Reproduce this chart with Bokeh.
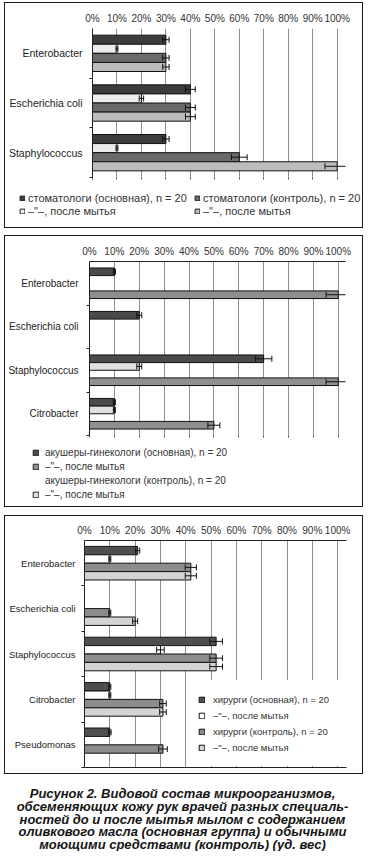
from bokeh.plotting import figure
from bokeh.models import (Range1d, FixedTicker, LinearAxis, Legend, LegendItem,
                          Whisker, ColumnDataSource, TeeHead)
from bokeh.layouts import column
from bokeh.embed import file_html
from bokeh.resources import INLINE
from bokeh.core.properties import value

F = "Liberation Sans"
BORDER = {"border": "1px solid #1a1a1a", "box-sizing": "content-box"}

# ---------------- data ----------------
PCT_TICKS = [0, 10, 20, 30, 40, 50, 60, 70, 80, 90, 100]
PCT_LABELS = ["0%", "10%", "20%", "30%", "40%", "50%", "60%", "70%", "80%", "90%", "100%"]

# Panel 1 - стоматологи
cats1 = ["Enterobacter", "Escherichia coli", "Staphylococcus"]
p1_main = [30, 40, 30]
p1_main_err = [1.3, 2.0, 1.3]
p1_main_after = [10, 20, 10]
p1_main_after_err = [0.4, 0.9, 0.4]
p1_ctrl = [30, 40, 60]
p1_ctrl_err = [1.3, 2.0, 3.2]
p1_ctrl_after = [30, 40, 100]
p1_ctrl_after_err = [1.3, 2.0, 5.0]
labels1 = ["стоматологи (основная), n = 20", "–\"–, после мытья",
           "стоматологи (контроль), n = 20", "–\"–, после мытья"]

# Panel 2 - акушеры-гинекологи
cats2 = ["Enterobacter", "Escherichia coli", "Staphylococcus", "Citrobacter"]
p2_main = [10, 20, 70, 10]
p2_main_err = [0.4, 1.0, 3.3, 0.4]
p2_main_after = [0, 0, 20, 10]
p2_main_after_err = [0, 0, 1.0, 0.4]
p2_ctrl = [0, 0, 0, 0]
p2_ctrl_err = [0, 0, 0, 0]
p2_ctrl_after = [100, 0, 100, 50]
p2_ctrl_after_err = [4.9, 0, 4.9, 2.4]
labels2 = ["акушеры-гинекологи (основная), n = 20", "–\"–, после мытья",
           "акушеры-гинекологи (контроль), n = 20", "–\"–, после мытья"]

# Panel 3 - хирурги
cats3 = ["Enterobacter", "Escherichia coli", "Staphylococcus", "Citrobacter", "Pseudomonas"]
p3_main = [21, 0, 52, 10, 10]
p3_main_err = [0.8, 0, 2.5, 0.4, 0.5]
p3_main_after = [10, 0, 30, 10, 0]
p3_main_after_err = [0.4, 0, 1.5, 0.4, 0]
p3_ctrl = [42, 10, 52, 31, 31]
p3_ctrl_err = [2.2, 0.4, 2.5, 1.3, 1.7]
p3_ctrl_after = [42, 20, 52, 31, 0]
p3_ctrl_after_err = [2.2, 1.0, 2.5, 1.3, 0]
labels3 = ["хирурги (основная), n = 20", "–\"–, после мытья",
           "хирурги (контроль), n = 20", "–\"–, после мытья"]

caption = ["Рисунок 2. Видовой состав микроорганизмов,",
           "обсеменяющих кожу рук врачей разных специаль-",
           "ностей до и после мытья мылом с содержанием",
           "оливкового масла (основная группа) и обычными",
           "моющими средствами (контроль) (уд. вес)"]


# ---------------- helpers ----------------
def base_fig(cats, height, borders, x_end, tick_fs, cat_fs, cat_standoff, bottom_line,
             top_line=True, styles=None, margin=None):
    n = len(cats)
    kw = {}
    if styles:
        kw["styles"] = styles
    if margin:
        kw["margin"] = margin
    p = figure(width=357, height=height, x_range=Range1d(0, x_end),
               y_range=Range1d(n - 0.5, -0.5), x_axis_location="above",
               toolbar_location=None, output_backend="svg",
               min_border_left=borders[0], min_border_right=borders[1],
               min_border_top=borders[2], min_border_bottom=borders[3], **kw)
    p.outline_line_color = None
    p.background_fill_color = "white"
    xa = p.xaxis[0]
    xa.ticker = FixedTicker(ticks=PCT_TICKS)
    xa.major_label_overrides = dict(zip(PCT_TICKS, PCT_LABELS))
    xa.major_tick_out = 0
    xa.major_tick_in = 0
    xa.minor_tick_out = 0
    xa.axis_line_color = "#222222" if top_line else None
    xa.major_label_text_font = F
    xa.major_label_text_font_size = tick_fs
    xa.major_label_text_color = "#333333"
    xa.major_label_standoff = 5

    ya = p.yaxis[0]
    ya.ticker = FixedTicker(ticks=list(range(n)), minor_ticks=[i + 0.5 for i in range(n)])
    ya.major_label_overrides = dict(zip(range(n), cats))
    ya.major_tick_out = 0
    ya.major_tick_in = 0
    ya.minor_tick_out = 3
    ya.minor_tick_in = 0
    ya.minor_tick_line_color = "#222222"
    ya.axis_line_color = "#222222"
    ya.major_label_text_font = F
    ya.major_label_text_font_size = cat_fs
    ya.major_label_text_color = "#222222"
    ya.major_label_standoff = cat_standoff

    ba = LinearAxis(ticker=FixedTicker(ticks=PCT_TICKS),
                    major_label_overrides={t: "" for t in PCT_TICKS},
                    major_label_text_font_size="0px", major_label_standoff=0,
                    major_tick_in=0, major_tick_out=0 if bottom_line else 2,
                    minor_tick_out=0, minor_tick_in=0,
                    major_tick_line_color="#444444",
                    axis_line_color="#222222" if bottom_line else None)
    p.add_layout(ba, "below")

    p.xgrid.ticker = FixedTicker(ticks=PCT_TICKS)
    p.xgrid.grid_line_color = "#8f8f8f"
    p.ygrid.grid_line_color = None
    return p


def add_series(p, k, bar_h, vals, errs, color, invisible=False):
    off = (k - 1.5) * bar_h
    idx = [i for i, v in enumerate(vals) if v > 0]
    src = ColumnDataSource(dict(
        y=[i + off for i in idx],
        right=[vals[i] for i in idx],
        lo=[vals[i] - errs[i] for i in idx],
        hi=[vals[i] + errs[i] for i in idx],
    ))
    r = p.hbar(y="y", left=0, right="right", height=bar_h, source=src,
               fill_color=color, line_color="#111111", line_width=1,
               fill_alpha=0 if invisible else 1, line_alpha=0 if invisible else 1)
    if idx:
        w = Whisker(source=src, base="y", lower="lo", upper="hi", dimension="width",
                    line_color="#111111", line_width=1, level="glyph",
                    upper_head=TeeHead(size=6, line_color="#111111", line_width=1),
                    lower_head=TeeHead(size=6, line_color="#111111", line_width=1))
        p.add_layout(w)
    return r


def make_legend(items, loc, fs, gw, gh, lh, lw, standoff, spacing, padding, ncols=None, bg=None):
    kw = dict(items=items, location=loc, glyph_width=gw, glyph_height=gh,
              label_height=lh, label_width=lw, label_standoff=standoff,
              spacing=spacing, padding=padding, margin=0,
              label_text_font=F, label_text_font_size=fs, label_text_color="#333333",
              label_text_baseline="middle",
              border_line_color="white", border_line_alpha=1 if bg else 0)
    if ncols:
        kw["ncols"] = ncols
    if bg:
        kw["background_fill_color"] = bg
        kw["background_fill_alpha"] = 1
    else:
        kw["background_fill_alpha"] = 0
    return Legend(**kw)


def legend_fig(height, labels, colors, visible, loc, fs, gw, gh, lh, lw, standoff, ncols=None):
    q = figure(width=357, height=height, x_range=Range1d(0, 1), y_range=Range1d(0, 1),
               x_axis_type=None, y_axis_type=None, toolbar_location=None,
               output_backend="svg", min_border=0)
    q.outline_line_color = None
    q.grid.visible = False
    items = []
    for lab, col, vis in zip(labels, colors, visible):
        # one off-screen dummy row so that the legend swatch is drawn
        r = q.hbar(y=[-5], right=[0.5], left=0, height=0.1, fill_color=col,
                   line_color="#222222", line_width=1,
                   fill_alpha=1 if vis else 0, line_alpha=1 if vis else 0)
        items.append(LegendItem(label=lab, renderers=[r]))
    q.add_layout(make_legend(items, loc, fs, gw, gh, lh, lw, standoff, 0, 0, ncols=ncols))
    return q


# ---------------- panel 1 ----------------
p1 = base_fig(cats1, 180, (82, 17, 25, 6), 103.4, "10px", "10.5px", 7, False, top_line=False)
h1 = 0.183
c1 = ["#3c3c3c", "#ececec", "#6a6a6a", "#bcbcbc"]
add_series(p1, 0, h1, p1_main, p1_main_err, c1[0])
add_series(p1, 1, h1, p1_main_after, p1_main_after_err, c1[1])
add_series(p1, 2, h1, p1_ctrl, p1_ctrl_err, c1[2])
add_series(p1, 3, h1, p1_ctrl_after, p1_ctrl_after_err, c1[3])
l1 = legend_fig(44, labels1, c1, [True] * 4, (14, 10), "11px", 6, 6, 13, 166, 3, ncols=2)
panel1 = column(column(p1), column(l1), styles=BORDER, margin=(2, 0, 0, 4))

# ---------------- panel 2 ----------------
p2 = base_fig(cats2, 205, (84, 17, 25, 6), 102.9, "10px", "10px", 8, False)
h2 = 0.176
c2 = ["#4a4a4a", "#e0e0e0", "#ffffff", "#8f8f8f"]
add_series(p2, 0, h2, p2_main, p2_main_err, c2[0])
add_series(p2, 1, h2, p2_main_after, p2_main_after_err, c2[1])
add_series(p2, 2, h2, p2_ctrl, p2_ctrl_err, c2[2], invisible=True)
add_series(p2, 3, h2, p2_ctrl_after, p2_ctrl_after_err, c2[3])
# legend as printed: swatches of series 1, 4, (none), 2
l2 = legend_fig(65, labels2, [c2[0], c2[3], c2[2], c2[1]], [True, True, False, True],
                (27, 5), "10px", 7, 7, 14, 200, 6)
panel2 = column(column(p2), column(l2), styles=BORDER, margin=(7, 0, 0, 4))

# ---------------- panel 3 ----------------
p3 = base_fig(cats3, 257, (71, 18, 24, 8), 103.5, "10px", "9.5px", 6, True,
              styles=BORDER, margin=(8, 0, 0, 4))
h3 = 0.185
c3 = ["#4f4f4f", "#ffffff", "#8c8c8c", "#d4d4d4"]
r30 = add_series(p3, 0, h3, p3_main, p3_main_err, c3[0])
r31 = add_series(p3, 1, h3, p3_main_after, p3_main_after_err, c3[1])
r32 = add_series(p3, 2, h3, p3_ctrl, p3_ctrl_err, c3[2])
r33 = add_series(p3, 3, h3, p3_ctrl_after, p3_ctrl_after_err, c3[3])
leg3 = make_legend([LegendItem(label=labels3[0], renderers=[r30]),
                    LegendItem(label=labels3[1], renderers=[r31]),
                    LegendItem(label=labels3[2], renderers=[r32]),
                    LegendItem(label=labels3[3], renderers=[r33])],
                   (103, 1), "9.5px", 7, 7, 16, 110, 8, 0, 10, bg="white")
p3.add_layout(leg3)

# ---------------- caption ----------------
p4 = figure(width=364, height=75, x_range=Range1d(0, 1), y_range=Range1d(75, 0),
            x_axis_type=None, y_axis_type=None, toolbar_location=None,
            output_backend="svg", min_border=0, margin=(2, 0, 0, 0))
p4.outline_line_color = None
p4.grid.visible = False
cap_src = ColumnDataSource(dict(x=[0.5] * len(caption),
                                y=[16.7 + 12.9 * i for i in range(len(caption))],
                                t=caption))
p4.text(x="x", y="y", text="t", source=cap_src, text_align="center",
        text_baseline="alphabetic", text_font=value(F), text_font_style="bold italic",
        text_font_size="13px", text_color="#151515")

layout = column(panel1, panel2, column(p3), column(p4), spacing=0)
open("out.html", "w").write(file_html(layout, INLINE))
